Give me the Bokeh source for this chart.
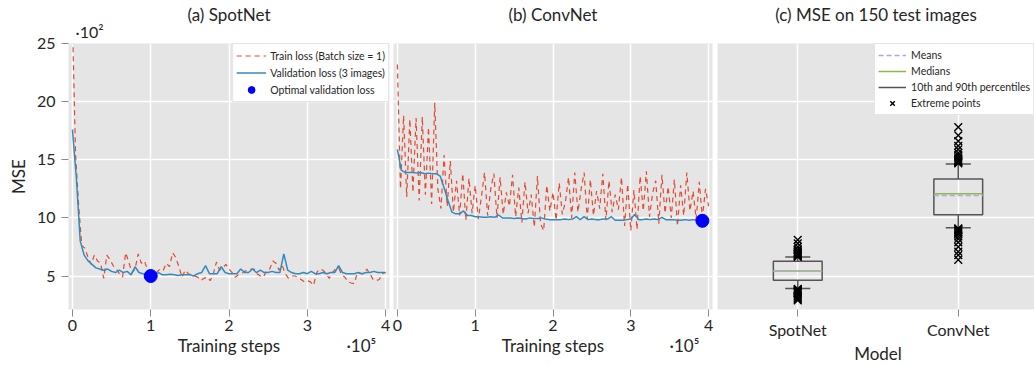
from bokeh.plotting import figure
from bokeh.layouts import row
from bokeh.models import Range1d, FixedTicker, Legend, LegendItem, LinearAxis, Title
from bokeh.embed import file_html
from bokeh.resources import INLINE

FONT = "Lato"
BG = "#E5E5E5"
RED = "#E24A33"
BLUE = "#348ABD"
TXT = "#262626"

# ---------------- data ----------------
x_ticks = [0, 1, 2, 3, 4]
y_ticks = [5, 10, 15, 20, 25]
x_label = "Training steps"
x_exponent = "·10⁵"
y_exponent = "·10²"

# training steps in units of 1e5 (train loss logged every 4000 steps, validation every 5000)
train_steps = [i * 0.04 for i in range(101)]
val_steps = [i * 0.05 for i in range(81)]

train_a = [27.0, 15.5, 11.0, 7.6, 7.4, 6.6, 6.0, 6.8, 6.3, 6.1,
           4.8, 6.8, 6.4, 5.9, 5.6, 5.2, 4.9, 7.0, 6.2, 5.3,
           5.6, 6.9, 6.1, 6.3, 5.5, 5.3, 5.2, 5.35, 5.6, 5.5,
           6.1, 5.8, 7.0, 6.6, 5.8, 4.9, 5.5, 5.2, 5.1, 5.0,
           4.9, 4.6, 4.8, 4.9, 4.6, 5.2, 6.2, 5.5, 5.7, 6.0,
           5.6, 5.3, 4.9, 5.1, 5.2, 5.4, 5.5, 5.6, 5.6, 5.2,
           5.0, 4.9, 5.5, 5.6, 6.3, 6.1, 5.5, 5.9, 5.2, 4.8,
           5.0, 5.0, 4.9, 4.7, 4.5, 4.6, 4.5, 4.2, 5.3, 5.6,
           5.5, 5.2, 4.8, 5.3, 5.6, 5.7, 5.1, 4.9, 4.5, 4.4,
           4.35, 5.3, 5.2, 5.2, 5.6, 5.2, 4.7, 4.6, 4.7, 5.2,
           5.3]
val_a = [17.6, 13.5, 8.0, 6.8, 6.3, 6.0, 5.7, 5.6, 5.5, 5.6,
         5.4, 5.3, 5.5, 5.3, 5.4, 5.1, 5.8, 5.3, 5.2, 5.1,
         5.0, 5.1, 5.3, 5.1, 5.1, 5.15, 5.1, 5.05, 5.1, 5.1,
         5.1, 5.0, 5.2, 5.3, 5.9, 5.2, 5.2, 5.2, 5.8, 5.3,
         5.2, 5.2, 5.2, 5.6, 5.3, 5.3, 5.6, 5.3, 5.5, 5.3,
         5.3, 5.4, 5.3, 5.3, 6.9, 5.5, 5.3, 5.2, 5.2, 5.3,
         5.2, 5.4, 5.2, 5.2, 5.3, 5.2, 5.3, 5.3, 5.9, 5.3,
         5.2, 5.2, 5.2, 5.3, 5.2, 5.3, 5.3, 5.4, 5.3, 5.3,
         5.3]
opt_a_x = [1.0]
opt_a_y = [5.0]

train_b = [23.2, 12.5, 18.8, 11.8, 18.5, 12.2, 18.6, 11.5, 18.7, 12.0,
           17.8, 11.2, 19.9, 12.5, 10.8, 15.4, 11.0, 14.9, 10.5, 13.2,
           10.2, 13.8, 9.8, 13.4, 10.4, 12.8, 9.9, 11.8, 13.9, 10.2,
           12.5, 13.8, 10.0, 13.5, 10.3, 12.2, 11.0, 13.7, 10.1, 12.6,
           9.6, 13.1, 10.4, 12.0, 9.2, 13.6, 9.5, 8.9, 12.8, 10.6,
           12.2, 9.8, 13.0, 10.3, 11.4, 13.5, 10.0, 13.9, 10.5, 12.4,
           13.9, 9.9, 13.3, 10.2, 12.3, 10.8, 13.8, 9.8, 13.2, 10.5,
           12.0, 10.7, 13.5, 9.3, 12.9, 8.9, 12.4, 9.0, 13.6, 10.6,
           14.0, 10.1, 12.1, 13.2, 9.5, 13.7, 10.4, 12.7, 10.0, 13.3,
           9.3, 12.8, 10.2, 13.9, 10.6, 12.3, 9.9, 13.1, 10.0, 12.5,
           11.0]
val_b = [15.9, 14.1, 13.9, 13.9, 13.9, 13.85, 13.9, 13.8, 13.85, 13.8,
         13.8, 13.6, 12.6, 11.5, 10.5, 10.35, 10.35, 10.6, 10.2, 10.2,
         10.1, 10.1, 10.05, 10.05, 10.1, 10.05, 10.25, 10.0, 10.0, 10.0,
         9.95, 10.0, 9.95, 9.9, 10.0, 9.95, 9.95, 10.0, 9.9, 9.85,
         9.85, 9.85, 9.85, 9.9, 9.85, 9.9, 10.1, 9.85, 10.1, 9.85,
         9.9, 9.85, 9.85, 9.9, 9.9, 10.1, 9.8, 9.8, 9.8, 9.85,
         9.9, 10.3, 9.85, 9.85, 9.9, 9.85, 9.9, 9.85, 10.05, 9.85,
         9.85, 9.85, 9.8, 9.8, 9.85, 9.8, 9.85, 9.8, 9.75, 9.9,
         9.9]
opt_b_x = [3.92]
opt_b_y = [9.75]

models = ["SpotNet", "ConvNet"]
model_pos = [1, 2]
box_q1 = [4.63, 10.26]
box_q3 = [6.26, 13.35]
medians = [5.43, 12.07]
means = [5.40, 11.92]
p10 = [3.92, 9.15]
p90 = [6.63, 14.64]
extreme_spot = [6.65, 6.7, 6.75, 6.8, 6.85, 6.9, 6.95, 7.0, 7.05, 7.1, 7.2, 7.3, 7.5, 7.8, 8.1,
                3.9, 3.85, 3.8, 3.75, 3.7, 3.65, 3.6, 3.55, 3.5, 3.4, 3.3, 3.2, 3.1, 3.0, 2.9]
extreme_conv = [14.7, 14.75, 14.8, 14.85, 14.9, 15.0, 15.1, 15.2, 15.4, 15.6, 15.9, 16.2, 16.6, 17.1, 17.8,
                9.1, 9.05, 9.0, 8.95, 8.9, 8.8, 8.7, 8.6, 8.4, 8.2, 7.9, 7.5, 7.1, 6.8, 6.4]

Y0, Y1 = 2.12, 25.0
H = 366

# title stacking: a small row (the y exponent, or an empty spacer) sits between title and frame
EXP_STANDOFF = 5
MAIN_STANDOFF = -15
try:
    Title(text="x", standoff=MAIN_STANDOFF)
except Exception:
    EXP_STANDOFF = 0
    MAIN_STANDOFF = 0


def make(title, width, bl, br, xr, with_y=False, exp_text=" "):
    p = figure(width=width, height=H, x_range=xr, y_range=Range1d(Y0, Y1),
               output_backend="svg", toolbar_location=None,
               min_border_left=bl, min_border_right=br, min_border_top=43, min_border_bottom=57,
               y_axis_location="left" if with_y else None)
    p.add_layout(Title(text=exp_text, align="left", offset=7, standoff=EXP_STANDOFF, text_font=FONT,
                       text_font_size="16px", text_font_style="normal", text_color=TXT), "above")
    p.add_layout(Title(text=title, align="center", standoff=MAIN_STANDOFF, text_font=FONT,
                       text_font_size="17px", text_font_style="normal", text_color=TXT), "above")
    p.background_fill_color = BG
    p.border_fill_color = "white"
    p.outline_line_color = None
    for ax in p.axis:
        ax.axis_line_color = None
        ax.major_tick_line_color = "#8a8a8a"
        ax.major_tick_out = 7
        ax.major_tick_in = 0
        ax.minor_tick_line_color = None
        ax.major_label_text_font = FONT
        ax.major_label_text_font_size = "16px"
        ax.major_label_text_color = TXT
        ax.major_label_standoff = 3
        ax.axis_label_text_font = FONT
        ax.axis_label_text_font_size = "17px"
        ax.axis_label_text_font_style = "normal"
        ax.axis_label_text_color = TXT
    p.xgrid.grid_line_color = "white"
    p.ygrid.grid_line_color = "white"
    p.xgrid.grid_line_width = 1.5
    p.ygrid.grid_line_width = 1.5
    p.ygrid.ticker = FixedTicker(ticks=y_ticks)
    if with_y:
        p.yaxis.ticker = FixedTicker(ticks=y_ticks)
        p.yaxis.major_label_standoff = 6
        p.yaxis.axis_label = "MSE"
        p.yaxis.axis_label_standoff = 5
    return p


def label_axis(p, ticks, texts):
    ax = LinearAxis(ticker=FixedTicker(ticks=ticks),
                    major_label_overrides={t: s for t, s in zip(ticks, texts)},
                    axis_line_color=None, major_tick_line_color=None, minor_tick_line_color=None,
                    major_tick_out=0, major_tick_in=0, major_label_standoff=1,
                    major_label_text_font=FONT, major_label_text_font_size="17px",
                    major_label_text_color=TXT)
    p.add_layout(ax, "below")


def loss_panel(title, width, bl, br, tr, va, ox, oy, with_y, legend, exp_text):
    p = make(title, width, bl, br, Range1d(-0.05, 4.05), with_y, exp_text)
    p.xaxis.ticker = FixedTicker(ticks=x_ticks)
    label_axis(p, [2.0, 3.69], [x_label, x_exponent])
    r1 = p.line(train_steps, tr, line_color=RED, line_width=1.2, line_dash="5 4")
    r2 = p.line(val_steps, va, line_color=BLUE, line_width=1.5)
    r3 = p.scatter(ox, oy, size=13, color="#0000FF")
    if legend:
        lg = Legend(items=[LegendItem(label="Train loss (Batch size = 1)", renderers=[r1]),
                           LegendItem(label="Validation loss (3 images)", renderers=[r2]),
                           LegendItem(label="Optimal validation loss", renderers=[r3])],
                    location="top_right", margin=0, padding=3, spacing=0,
                    label_height=17, glyph_height=17, glyph_width=30, label_standoff=4,
                    label_text_font=FONT, label_text_font_size="10.5px", label_text_color=TXT,
                    border_line_color="#cccccc", background_fill_color="white", background_fill_alpha=1)
        p.add_layout(lg)
    return p


pa = loss_panel("(a) SpotNet", 391, 68, 2, train_a, val_a, opt_a_x, opt_a_y, True, True, y_exponent)
pb = loss_panel("(b) ConvNet", 324, 2, 3, train_b, val_b, opt_b_x, opt_b_y, False, False, " ")

# ---------------- box plot panel ----------------
pc = make("(c) MSE on 150 test images", 319, 2, 0, Range1d(0.5, 2.475), False, " ")
pc.xaxis.ticker = FixedTicker(ticks=model_pos)
pc.xaxis.major_label_overrides = {pos: name for pos, name in zip(model_pos, models)}
label_axis(pc, [1.5], ["Model"])
half = 0.152
cap = 0.078
left = [m - half for m in model_pos]
right = [m + half for m in model_pos]
GRAY = "#555555"
pc.quad(left=left, right=right, bottom=box_q1, top=box_q3, fill_color=None, line_color=GRAY, line_width=1.5)
pc.segment(model_pos, box_q3, model_pos, p90, line_color=GRAY, line_width=1.5)
pc.segment(model_pos, box_q1, model_pos, p10, line_color=GRAY, line_width=1.5)
rc_caps = pc.segment([m - cap for m in model_pos] * 2, p90 + p10, [m + cap for m in model_pos] * 2, p90 + p10,
                     line_color=GRAY, line_width=1.5)
rc_med = pc.segment(left, medians, right, medians, line_color="#8EBA42", line_width=1.5)
rc_mean = pc.segment(left, means, right, means, line_color="#A9A9E8", line_width=1.5, line_dash="5 3")
ex_x = [model_pos[0]] * len(extreme_spot) + [model_pos[1]] * len(extreme_conv)
ex_y = extreme_spot + extreme_conv
rc_ex = pc.scatter(ex_x, ex_y, marker="x", size=11, line_color="black", line_width=1.4)
lgc = Legend(items=[LegendItem(label="Means", renderers=[rc_mean]),
                    LegendItem(label="Medians", renderers=[rc_med]),
                    LegendItem(label="10th and 90th percentiles", renderers=[rc_caps]),
                    LegendItem(label="Extreme points", renderers=[rc_ex])],
             location="top_right", margin=0, padding=3, spacing=0,
             label_height=16, glyph_height=16, glyph_width=28, label_standoff=5,
             label_text_font=FONT, label_text_font_size="10.5px", label_text_color=TXT,
             border_line_color="#cccccc", background_fill_color="white", background_fill_alpha=1)
pc.add_layout(lgc)

layout = row(pa, pb, pc)
open("out.html", "w").write(file_html(layout, INLINE))
